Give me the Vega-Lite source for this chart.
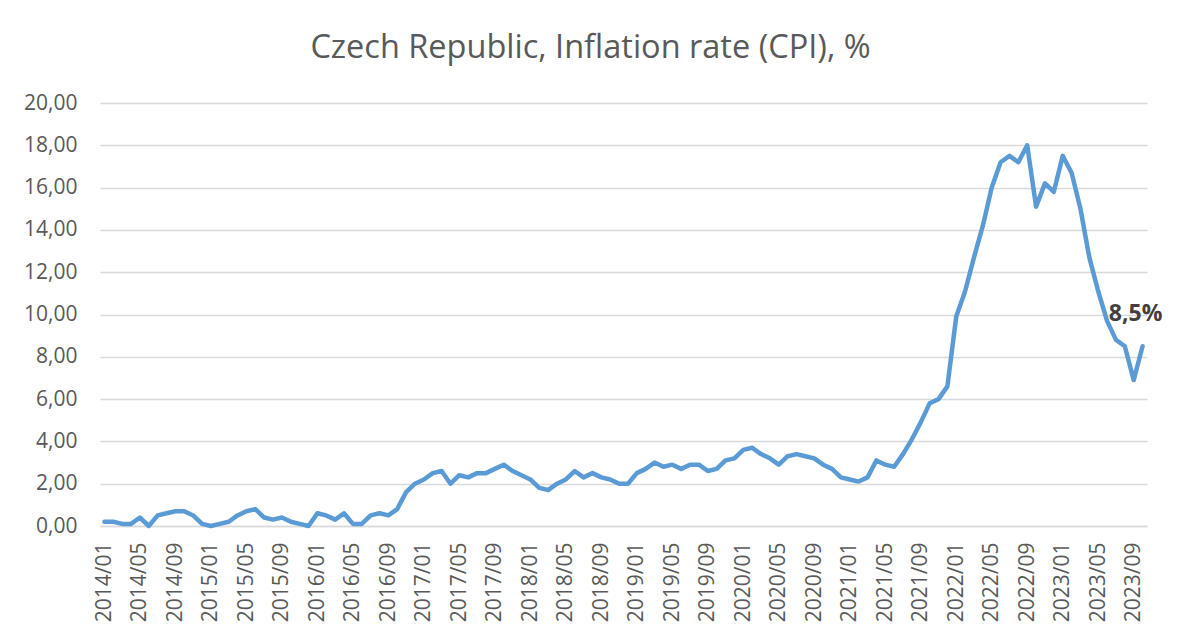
{
  "$schema": "https://vega.github.io/schema/vega-lite/v6.json",
  "width": 1047,
  "height": 423,
  "autosize": {"type": "none"},
  "padding": {"left": 100, "top": 103, "right": 30, "bottom": 113},
  "background": "white",
  "title": {
    "text": "Czech Republic, Inflation rate (CPI), %",
    "font": "Open Sans",
    "fontSize": 32.5,
    "fontWeight": "normal",
    "color": "#595959",
    "anchor": "middle",
    "baseline": "alphabetic",
    "dx": -33,
    "dy": 44,
    "offset": 46
  },
  "config": {
    "view": {"stroke": null},
    "axis": {
      "labelFont": "Open Sans",
      "labelFontSize": 21,
      "labelColor": "#595959",
      "ticks": false,
      "title": null
    }
  },
  "datasets": {
    "cpi": [
      {"m":"2014/01","v":0.2},{"m":"2014/02","v":0.2},{"m":"2014/03","v":0.1},{"m":"2014/04","v":0.1},
      {"m":"2014/05","v":0.4},{"m":"2014/06","v":0.0},{"m":"2014/07","v":0.5},{"m":"2014/08","v":0.6},
      {"m":"2014/09","v":0.7},{"m":"2014/10","v":0.7},{"m":"2014/11","v":0.5},{"m":"2014/12","v":0.1},
      {"m":"2015/01","v":0.0},{"m":"2015/02","v":0.1},{"m":"2015/03","v":0.2},{"m":"2015/04","v":0.5},
      {"m":"2015/05","v":0.7},{"m":"2015/06","v":0.8},{"m":"2015/07","v":0.4},{"m":"2015/08","v":0.3},
      {"m":"2015/09","v":0.4},{"m":"2015/10","v":0.2},{"m":"2015/11","v":0.1},{"m":"2015/12","v":0.0},
      {"m":"2016/01","v":0.6},{"m":"2016/02","v":0.5},{"m":"2016/03","v":0.3},{"m":"2016/04","v":0.6},
      {"m":"2016/05","v":0.1},{"m":"2016/06","v":0.1},{"m":"2016/07","v":0.5},{"m":"2016/08","v":0.6},
      {"m":"2016/09","v":0.5},{"m":"2016/10","v":0.8},{"m":"2016/11","v":1.6},{"m":"2016/12","v":2.0},
      {"m":"2017/01","v":2.2},{"m":"2017/02","v":2.5},{"m":"2017/03","v":2.6},{"m":"2017/04","v":2.0},
      {"m":"2017/05","v":2.4},{"m":"2017/06","v":2.3},{"m":"2017/07","v":2.5},{"m":"2017/08","v":2.5},
      {"m":"2017/09","v":2.7},{"m":"2017/10","v":2.9},{"m":"2017/11","v":2.6},{"m":"2017/12","v":2.4},
      {"m":"2018/01","v":2.2},{"m":"2018/02","v":1.8},{"m":"2018/03","v":1.7},{"m":"2018/04","v":2.0},
      {"m":"2018/05","v":2.2},{"m":"2018/06","v":2.6},{"m":"2018/07","v":2.3},{"m":"2018/08","v":2.5},
      {"m":"2018/09","v":2.3},{"m":"2018/10","v":2.2},{"m":"2018/11","v":2.0},{"m":"2018/12","v":2.0},
      {"m":"2019/01","v":2.5},{"m":"2019/02","v":2.7},{"m":"2019/03","v":3.0},{"m":"2019/04","v":2.8},
      {"m":"2019/05","v":2.9},{"m":"2019/06","v":2.7},{"m":"2019/07","v":2.9},{"m":"2019/08","v":2.9},
      {"m":"2019/09","v":2.6},{"m":"2019/10","v":2.7},{"m":"2019/11","v":3.1},{"m":"2019/12","v":3.2},
      {"m":"2020/01","v":3.6},{"m":"2020/02","v":3.7},{"m":"2020/03","v":3.4},{"m":"2020/04","v":3.2},
      {"m":"2020/05","v":2.9},{"m":"2020/06","v":3.3},{"m":"2020/07","v":3.4},{"m":"2020/08","v":3.3},
      {"m":"2020/09","v":3.2},{"m":"2020/10","v":2.9},{"m":"2020/11","v":2.7},{"m":"2020/12","v":2.3},
      {"m":"2021/01","v":2.2},{"m":"2021/02","v":2.1},{"m":"2021/03","v":2.3},{"m":"2021/04","v":3.1},
      {"m":"2021/05","v":2.9},{"m":"2021/06","v":2.8},{"m":"2021/07","v":3.4},{"m":"2021/08","v":4.1},
      {"m":"2021/09","v":4.9},{"m":"2021/10","v":5.8},{"m":"2021/11","v":6.0},{"m":"2021/12","v":6.6},
      {"m":"2022/01","v":9.9},{"m":"2022/02","v":11.1},{"m":"2022/03","v":12.7},{"m":"2022/04","v":14.2},
      {"m":"2022/05","v":16.0},{"m":"2022/06","v":17.2},{"m":"2022/07","v":17.5},{"m":"2022/08","v":17.2},
      {"m":"2022/09","v":18.0},{"m":"2022/10","v":15.1},{"m":"2022/11","v":16.2},{"m":"2022/12","v":15.8},
      {"m":"2023/01","v":17.5},{"m":"2023/02","v":16.7},{"m":"2023/03","v":15.0},{"m":"2023/04","v":12.7},
      {"m":"2023/05","v":11.1},{"m":"2023/06","v":9.7},{"m":"2023/07","v":8.8},{"m":"2023/08","v":8.5},
      {"m":"2023/09","v":6.9},{"m":"2023/10","v":8.5}
    ],
    "label": [{"m":"2023/10","v":8.5,"t":"8,5%"}]
  },
  "layer": [
    {
      "data": {"name": "cpi"},
      "mark": {"type": "line", "color": "#5B9BD5", "strokeWidth": 4.5, "strokeJoin": "round", "strokeCap": "round"},
      "encoding": {
        "x": {
          "field": "m", "type": "ordinal", "sort": null,
          "scale": {"type": "point", "padding": 0.5},
          "axis": {
            "labelAngle": -90,
            "labelPadding": 16,
            "grid": false,
            "domainColor": "#d9d9d9",
            "domainWidth": 1.5,
            "values": ["2014/01","2014/05","2014/09","2015/01","2015/05","2015/09","2016/01","2016/05","2016/09","2017/01","2017/05","2017/09","2018/01","2018/05","2018/09","2019/01","2019/05","2019/09","2020/01","2020/05","2020/09","2021/01","2021/05","2021/09","2022/01","2022/05","2022/09","2023/01","2023/05","2023/09"]
          }
        },
        "y": {
          "field": "v", "type": "quantitative",
          "scale": {"domain": [0, 20], "nice": false},
          "axis": {
            "values": [0,2,4,6,8,10,12,14,16,18,20],
            "labelExpr": "replace(format(datum.value, '.2f'), '.', ',')",
            "labelPadding": 23,
            "domain": false,
            "gridColor": "#d9d9d9",
            "gridWidth": 1.5
          }
        }
      }
    },
    {
      "data": {"name": "label"},
      "mark": {"type": "text", "font": "Open Sans", "fontSize": 23, "fontWeight": "bold", "color": "#404040", "dx": -7, "dy": -32},
      "encoding": {
        "x": {"field": "m", "type": "ordinal"},
        "y": {"field": "v", "type": "quantitative"},
        "text": {"field": "t"}
      }
    }
  ]
}
